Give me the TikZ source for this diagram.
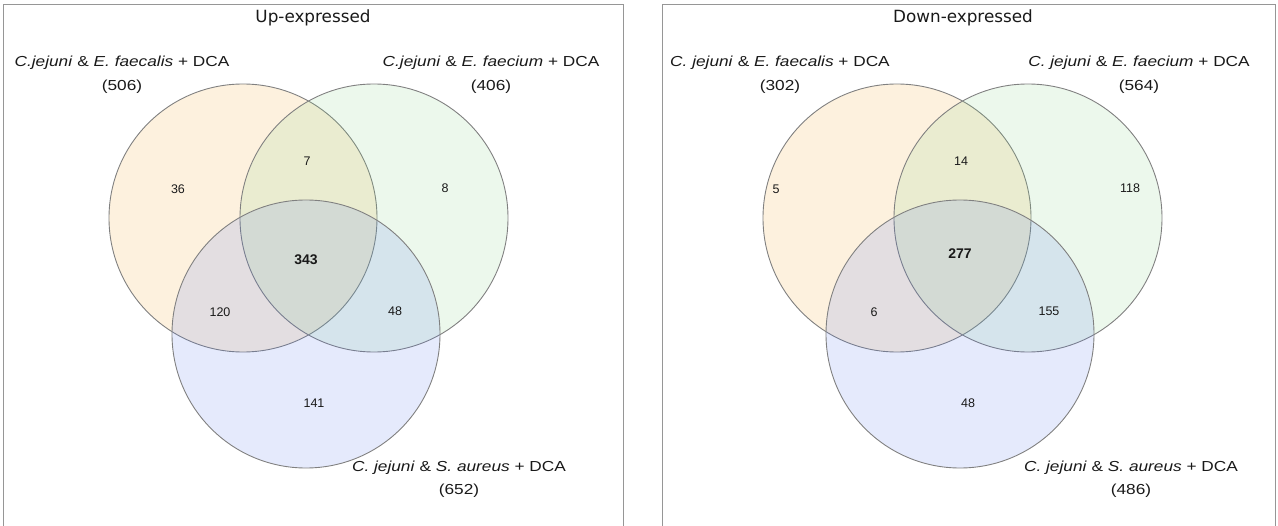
\documentclass[tikz,border=0pt]{standalone}
\usepackage{fontspec}
\setmainfont{Liberation Sans}
\newfontfamily\titlefont{DejaVu Sans}
\newfontfamily\labelfont[FakeStretch=1.19]{Liberation Sans}
\usepackage{tikz}
\usetikzlibrary{positioning}
\definecolor{setorange}{RGB}{242,162,35}
\definecolor{setgreen}{RGB}{128,208,128}
\definecolor{setblue}{RGB}{81,115,236}
\definecolor{ringgray}{RGB}{128,128,128}
\definecolor{framegray}{RGB}{150,150,150}
\definecolor{inkgray}{RGB}{25,25,25}

\begin{document}
\begin{tikzpicture}[
  x=1pt, y=-1pt,
  frame/.style={draw=framegray, line width=0.9pt},
  venn/.style={circle, minimum size=268pt, inner sep=0pt, draw=ringgray,
               line width=0.9pt, fill opacity=0.15},
  setA/.style={venn, fill=setorange},
  setB/.style={venn, fill=setgreen},
  setC/.style={venn, fill=setblue},
  count/.style={font=\fontsize{12.5}{14}\selectfont, text=inkgray, inner sep=1pt},
  core/.style={count, font=\fontsize{14}{16}\selectfont\bfseries},
  setlabel/.style={align=center, font=\labelfont\fontsize{14.5}{23.5}\selectfont, text=inkgray},
  paneltitle/.style={font=\titlefont\fontsize{16.8}{19}\selectfont, text=inkgray}
]
\useasboundingbox (0,0) rectangle (1278,526);

% Panel frames (open at the bottom)
\draw[frame] (3,526) -- (3,4) -- (623,4) -- (623,526);
\draw[frame] (662,526) -- (662,4) -- (1275,4) -- (1275,526);

% ---- Up-expressed ----
\node[paneltitle] (uptitle) at (313,18) {Up-expressed};

\node[setA] (upA) at (243,218) {};
\node[setB] (upB) at (374,218) {};
\node[setC] (upC) at (306,334) {};

\node[setlabel] (uplabA) at (122,75)
  {\textit{C.jejuni} \& \textit{E. faecalis} + DCA\\(506)};
\node[setlabel] (uplabB) at (491,75)
  {\textit{C.jejuni} \& \textit{E. faecium} + DCA\\(406)};
\node[setlabel] (uplabC) at (459,479)
  {\textit{C. jejuni} \& \textit{S. aureus} + DCA\\(652)};

\node[count] (upa)   at (178,189) {36};
\node[count] (upab)  at (307,161) {7};
\node[count] (upb)   at (445,188) {8};
\node[core]  (upabc) at (306,260) {343};
\node[count] (upac)  at (220,312) {120};
\node[count] (upbc)  at (395,311) {48};
\node[count] (upc)   at (314,403) {141};

% ---- Down-expressed ----
\node[paneltitle] (downtitle) at (963,18) {Down-expressed};

\node[setA] (downA) at (897,218) {};
\node[setB] (downB) at (1028,218) {};
\node[setC] (downC) at (960,334) {};

\node[setlabel] (downlabA) at (780,75)
  {\textit{C. jejuni} \& \textit{E. faecalis} + DCA\\(302)};
\node[setlabel] (downlabB) at (1139,75)
  {\textit{C. jejuni} \& \textit{E. faecium} + DCA\\(564)};
\node[setlabel] (downlabC) at (1131,479)
  {\textit{C. jejuni} \& \textit{S. aureus} + DCA\\(486)};

\node[count] (downa)   at (776,189) {5};
\node[count] (downab)  at (961,161) {14};
\node[count] (downb)   at (1130,188) {118};
\node[core]  (downabc) at (960,254) {277};
\node[count] (downac)  at (874,312) {6};
\node[count] (downbc)  at (1049,311) {155};
\node[count] (downc)   at (968,403) {48};
\end{tikzpicture}
\end{document}
